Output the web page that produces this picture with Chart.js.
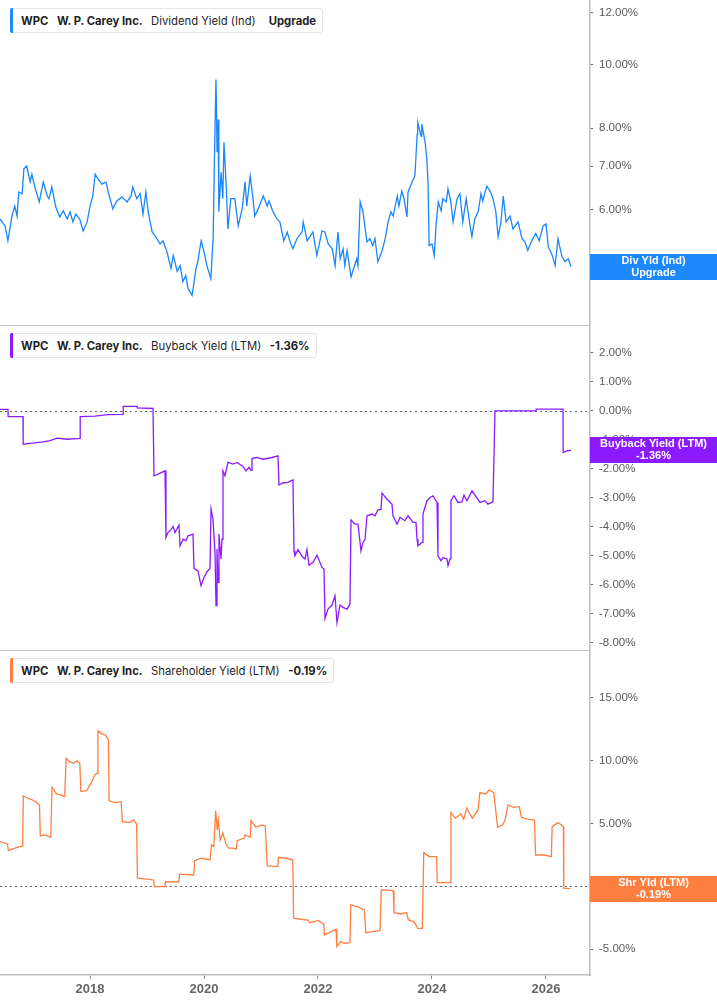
<!DOCTYPE html>
<html><head><meta charset="utf-8">
<script src="https://cdn.jsdelivr.net/npm/chart.js@4/dist/chart.umd.min.js"></script>
<style>
html,body{margin:0;padding:0;background:#fff;}
#wrap{position:relative;width:717px;height:1005px;overflow:hidden;}
#c{position:absolute;left:0;top:0;}
.legend{position:absolute;left:10px;height:25px;border:1px solid #e4e4e4;border-radius:3px;background:#fff;
  font-family:Inter,"Noto Sans",sans-serif;font-size:11.3px;color:#1f1f1f;display:flex;align-items:center;
  box-sizing:border-box;padding:0 6px 0 10px;white-space:nowrap;}
.legend .bar{position:absolute;left:-1px;top:-1px;bottom:-1px;width:3px;border-radius:2px 0 0 2px;}
.legend span{margin-right:8.5px}
.legend span:last-child{margin-right:0}
.b{font-weight:700}
</style></head>
<body>
<div id="wrap">
<canvas id="c" width="717" height="1005"></canvas>
<div class="legend" style="top:8px"><div class="bar" style="background:#1e88ff"></div><span class="b">WPC</span><span class="b">W. P. Carey Inc.</span><span style="margin-right:13px">Dividend Yield (Ind)</span><span class="b">Upgrade</span></div>
<div class="legend" style="top:333px"><div class="bar" style="background:#8c1aff"></div><span class="b">WPC</span><span class="b">W. P. Carey Inc.</span><span>Buyback Yield (LTM)</span><span class="b">-1.36%</span></div>
<div class="legend" style="top:658px"><div class="bar" style="background:#ff7f40"></div><span class="b">WPC</span><span class="b">W. P. Carey Inc.</span><span>Shareholder Yield (LTM)</span><span class="b">-0.19%</span></div>
</div>
<script>
// ---- data (x = decimal year, y = percent) ----
const xTickYears = [2018, 2020, 2022, 2024, 2026];
const divTicks = [5, 6, 7, 8, 10, 12];
const buybackTicks = [2, 1, 0, -1, -2, -3, -4, -5, -6, -7, -8];
const shrTicks = [15, 10, 5, 0, -5];

const dividendYield = [[2016.42,5.81],[2016.51,5.67],[2016.56,5.38],[2016.63,5.87],[2016.68,6.08],[2016.72,5.87],[2016.75,6.39],[2016.81,6.35],[2016.84,6.93],[2016.89,7.00],[2016.95,6.62],[2016.98,6.80],[2017.04,6.46],[2017.11,6.17],[2017.18,6.62],[2017.25,6.30],[2017.28,6.24],[2017.33,6.50],[2017.40,6.06],[2017.47,5.85],[2017.53,5.98],[2017.60,5.81],[2017.65,5.96],[2017.70,5.75],[2017.75,5.91],[2017.82,5.81],[2017.88,5.57],[2017.95,5.75],[2018.00,6.08],[2018.05,6.30],[2018.09,6.80],[2018.14,6.69],[2018.21,6.57],[2018.28,6.62],[2018.32,6.39],[2018.40,6.02],[2018.47,6.19],[2018.56,6.28],[2018.65,6.17],[2018.72,6.30],[2018.75,6.50],[2018.82,6.24],[2018.88,6.35],[2018.93,5.91],[2018.98,6.39],[2019.02,5.96],[2019.09,5.55],[2019.14,5.48],[2019.23,5.32],[2019.28,5.38],[2019.35,5.18],[2019.42,4.88],[2019.46,5.11],[2019.53,4.83],[2019.58,4.93],[2019.63,4.66],[2019.68,4.76],[2019.72,4.55],[2019.79,4.44],[2019.81,4.55],[2019.86,4.88],[2019.89,5.00],[2019.95,5.38],[2020.00,5.18],[2020.05,4.93],[2020.12,4.71],[2020.16,5.42],[2020.18,6.93],[2020.21,9.49],[2020.23,7.35],[2020.25,8.25],[2020.26,5.96],[2020.30,6.85],[2020.33,6.24],[2020.35,7.61],[2020.39,6.52],[2020.42,5.61],[2020.47,6.24],[2020.54,6.24],[2020.60,5.67],[2020.67,6.02],[2020.72,6.62],[2020.75,6.08],[2020.81,6.76],[2020.86,6.24],[2020.89,5.87],[2020.95,6.02],[2021.04,6.30],[2021.11,6.08],[2021.14,6.19],[2021.21,5.96],[2021.28,5.81],[2021.33,5.75],[2021.40,5.38],[2021.46,5.55],[2021.51,5.36],[2021.56,5.23],[2021.63,5.42],[2021.72,5.55],[2021.74,5.75],[2021.81,5.38],[2021.91,5.55],[2021.98,5.11],[2022.07,5.57],[2022.12,5.55],[2022.18,5.32],[2022.25,5.23],[2022.30,4.93],[2022.35,5.55],[2022.39,5.05],[2022.44,5.23],[2022.47,4.93],[2022.51,5.20],[2022.58,4.74],[2022.61,4.83],[2022.68,5.05],[2022.70,4.93],[2022.74,6.17],[2022.79,5.96],[2022.82,5.67],[2022.86,5.36],[2022.91,5.42],[2022.96,5.29],[2023.00,5.42],[2023.05,5.00],[2023.12,5.18],[2023.18,5.42],[2023.23,5.75],[2023.28,5.96],[2023.32,5.87],[2023.39,6.30],[2023.42,6.08],[2023.47,6.41],[2023.51,6.24],[2023.56,5.85],[2023.58,6.39],[2023.65,6.62],[2023.70,6.76],[2023.74,7.83],[2023.75,8.16],[2023.81,7.77],[2023.82,8.11],[2023.88,7.61],[2023.91,7.17],[2023.93,6.62],[2023.95,5.29],[2024.00,5.32],[2024.04,5.11],[2024.07,5.67],[2024.11,6.17],[2024.16,5.98],[2024.19,6.24],[2024.25,6.17],[2024.28,6.46],[2024.33,6.17],[2024.37,5.75],[2024.44,6.24],[2024.49,6.35],[2024.54,5.75],[2024.60,6.24],[2024.65,5.81],[2024.70,5.46],[2024.75,5.81],[2024.81,5.96],[2024.86,6.35],[2024.89,6.19],[2024.96,6.52],[2025.02,6.41],[2025.07,6.24],[2025.12,5.96],[2025.16,5.46],[2025.21,5.75],[2025.25,6.30],[2025.30,5.75],[2025.37,5.87],[2025.42,5.61],[2025.51,5.75],[2025.58,5.42],[2025.63,5.36],[2025.68,5.20],[2025.75,5.38],[2025.82,5.52],[2025.88,5.38],[2025.95,5.67],[2026.00,5.71],[2026.04,5.27],[2026.11,5.11],[2026.16,4.93],[2026.21,5.42],[2026.28,5.09],[2026.33,5.00],[2026.39,5.05],[2026.44,4.91]];

const buybackYield = [[2016.421,0.05],[2016.561,0.05],[2016.564,-0.20],[2016.825,-0.20],[2016.828,-1.15],[2016.947,-1.12],[2017.175,-1.07],[2017.298,-1.03],[2017.421,-0.94],[2017.596,-0.98],[2017.825,-0.95],[2017.828,-0.20],[2018.088,-0.18],[2018.316,-0.13],[2018.579,-0.12],[2018.582,0.15],[2018.825,0.15],[2018.828,0.10],[2019.105,0.08],[2019.123,-2.24],[2019.175,-2.20],[2019.316,-2.07],[2019.333,-4.37],[2019.368,-4.20],[2019.421,-4.10],[2019.456,-3.99],[2019.491,-4.20],[2019.561,-3.94],[2019.579,-4.66],[2019.632,-4.43],[2019.684,-4.48],[2019.719,-4.31],[2019.807,-4.25],[2019.825,-5.44],[2019.895,-5.52],[2019.947,-6.03],[2020.000,-5.75],[2020.053,-5.55],[2020.105,-5.44],[2020.123,-3.39],[2020.158,-3.74],[2020.193,-4.89],[2020.211,-6.72],[2020.228,-4.77],[2020.246,-5.92],[2020.263,-4.25],[2020.298,-5.11],[2020.316,-4.43],[2020.333,-2.07],[2020.368,-2.24],[2020.421,-1.78],[2020.509,-1.84],[2020.579,-1.78],[2020.684,-1.92],[2020.737,-2.07],[2020.789,-1.95],[2020.825,-2.05],[2020.842,-1.64],[2020.930,-1.61],[2021.035,-1.67],[2021.193,-1.61],[2021.298,-1.55],[2021.316,-2.56],[2021.386,-2.49],[2021.474,-2.47],[2021.561,-2.38],[2021.579,-4.83],[2021.596,-5.00],[2021.649,-4.79],[2021.719,-5.02],[2021.772,-5.11],[2021.807,-4.79],[2021.842,-5.32],[2021.912,-5.23],[2021.982,-4.98],[2022.070,-5.40],[2022.105,-5.46],[2022.123,-7.16],[2022.175,-6.84],[2022.246,-6.70],[2022.298,-6.38],[2022.333,-7.30],[2022.386,-6.70],[2022.439,-6.78],[2022.509,-6.84],[2022.561,-6.67],[2022.579,-3.76],[2022.649,-3.91],[2022.702,-3.91],[2022.754,-4.83],[2022.789,-4.54],[2022.825,-4.43],[2022.860,-3.62],[2022.947,-3.56],[2023.000,-3.62],[2023.053,-3.41],[2023.105,-3.41],[2023.123,-2.84],[2023.211,-3.05],[2023.298,-3.22],[2023.316,-3.62],[2023.386,-3.91],[2023.439,-3.68],[2023.526,-3.79],[2023.579,-3.62],[2023.667,-3.85],[2023.719,-3.85],[2023.737,-4.43],[2023.754,-4.66],[2023.825,-4.54],[2023.842,-3.56],[2023.912,-3.10],[2023.965,-2.99],[2024.018,-2.93],[2024.088,-3.16],[2024.105,-5.00],[2024.158,-5.17],[2024.193,-5.06],[2024.263,-5.11],[2024.281,-5.34],[2024.316,-5.11],[2024.333,-3.10],[2024.386,-2.93],[2024.456,-3.16],[2024.526,-3.14],[2024.561,-2.91],[2024.614,-3.10],[2024.702,-2.76],[2024.754,-2.91],[2024.842,-3.16],[2024.930,-3.10],[2024.982,-3.22],[2025.070,-3.14],[2025.105,0.00],[2025.596,0.00],[2025.825,0.00],[2025.828,0.06],[2026.298,0.06],[2026.301,-1.44],[2026.368,-1.38],[2026.439,-1.36]];

const shareholderYield = [[2016.421,3.55],[2016.553,3.37],[2016.567,2.84],[2016.684,3.03],[2016.818,3.21],[2016.830,7.20],[2016.912,7.01],[2017.018,6.82],[2017.114,6.48],[2017.128,4.01],[2017.211,4.09],[2017.312,3.90],[2017.333,7.89],[2017.412,7.35],[2017.477,7.27],[2017.556,7.14],[2017.582,10.20],[2017.642,9.93],[2017.709,9.80],[2017.775,10.00],[2017.821,9.80],[2017.840,7.54],[2017.940,7.62],[2018.018,8.21],[2018.084,8.87],[2018.125,9.00],[2018.139,12.40],[2018.203,12.14],[2018.270,12.06],[2018.323,11.66],[2018.335,6.82],[2018.435,6.66],[2018.547,6.74],[2018.567,5.15],[2018.698,5.07],[2018.765,5.28],[2018.818,4.96],[2018.832,0.64],[2018.963,0.58],[2019.116,0.50],[2019.128,-0.03],[2019.312,-0.03],[2019.326,0.37],[2019.558,0.34],[2019.570,0.96],[2019.821,0.90],[2019.835,2.04],[2019.954,2.23],[2020.105,2.10],[2020.132,3.29],[2020.172,3.16],[2020.205,6.02],[2020.232,4.49],[2020.251,5.28],[2020.284,3.69],[2020.330,4.22],[2020.382,3.43],[2020.430,3.03],[2020.514,3.03],[2020.568,2.95],[2020.581,3.63],[2020.700,3.82],[2020.726,4.09],[2020.812,3.90],[2020.825,5.23],[2020.910,4.70],[2021.010,4.88],[2021.075,4.80],[2021.109,1.62],[2021.295,1.56],[2021.307,2.31],[2021.439,2.23],[2021.558,2.10],[2021.572,-2.55],[2021.702,-2.63],[2021.823,-2.69],[2021.849,-2.90],[2022.000,-2.74],[2022.100,-3.00],[2022.112,-3.88],[2022.232,-3.62],[2022.317,-3.43],[2022.331,-4.81],[2022.397,-4.41],[2022.463,-4.54],[2022.561,-4.49],[2022.575,-1.49],[2022.693,-1.63],[2022.812,-1.89],[2022.839,-3.70],[2022.958,-3.62],[2023.089,-3.54],[2023.110,-0.29],[2023.321,-0.35],[2023.333,-2.10],[2023.453,-2.21],[2023.553,-2.10],[2023.586,-2.69],[2023.684,-2.82],[2023.751,-3.35],[2023.830,-3.35],[2023.856,2.68],[2023.949,2.36],[2024.081,2.36],[2024.093,0.29],[2024.325,0.29],[2024.332,5.87],[2024.410,5.42],[2024.509,5.76],[2024.556,5.34],[2024.609,6.22],[2024.707,5.42],[2024.807,6.08],[2024.840,7.46],[2024.939,7.35],[2025.005,7.67],[2025.084,7.46],[2025.151,4.70],[2025.235,4.88],[2025.282,5.28],[2025.335,6.48],[2025.433,6.29],[2025.533,6.34],[2025.567,5.50],[2025.665,5.34],[2025.797,5.28],[2025.818,2.49],[2025.961,2.49],[2026.095,2.36],[2026.107,4.75],[2026.212,5.07],[2026.305,4.75],[2026.312,-0.16],[2026.425,-0.19]];

const tagLabels = [
  {axis:'yTop', ds:0, color:'#1e88ff', lines:['Div Yld (Ind)','Upgrade']},
  {axis:'yMid', ds:1, color:'#8c1aff', lines:['Buyback Yield (LTM)','-1.36%']},
  {axis:'yBot', ds:2, color:'#ff7f40', lines:['Shr Yld (LTM)','-0.19%']}
];

// ---- chart ----
const toPts = a => a.map(p => ({x:p[0], y:p[1]}));
const AXIS_W = 127;
const tickFont = {family:'"Liberation Sans", Arial, sans-serif', size:11.5};
const pct = v => Number(v).toFixed(2) + '%';

function yAxis(type, min, max, ticks) {
  return {
    type, min, max, position:'right', stack:'panels', stackWeight:1, offset:false,
    afterBuildTicks: s => { s.ticks = ticks.map(v => ({value:v})); },
    afterFit: s => { s.width = AXIS_W; s.paddingTop = 0; s.paddingBottom = 0; },
    grid:{drawOnChartArea:false, drawTicks:true, tickLength:3, tickColor:'#666', color:'#666'},
    border:{display:true, color:'#bdbdbd', width:1.5},
    ticks:{font:tickFont, color:'#5a5a5a', padding:6, callback: v => pct(v), autoSkip:false}
  };
}

const panelPlugin = {
  id:'panels',
  beforeDatasetsDraw(chart){
    const ctx = chart.ctx, ca = chart.chartArea;
    ctx.save();
    ctx.strokeStyle = '#c4c4c4'; ctx.lineWidth = 1;
    ['yMid','yBot'].forEach(id => {
      const t = Math.round(chart.scales[id].top) + 0.5;
      ctx.beginPath(); ctx.moveTo(ca.left, t); ctx.lineTo(ca.right, t); ctx.stroke();
    });
    ctx.strokeStyle = '#666'; ctx.setLineDash([2,3]);
    ['yMid','yBot'].forEach(id => {
      const y = Math.round(chart.scales[id].getPixelForValue(0)) + 0.5;
      ctx.beginPath(); ctx.moveTo(ca.left, y); ctx.lineTo(ca.right, y); ctx.stroke();
    });
    ctx.restore();
  },
  afterDraw(chart){
    const ctx = chart.ctx, x0 = chart.chartArea.right, w = chart.width - x0;
    ctx.save();
    tagLabels.forEach(t => {
      const d = chart.data.datasets[t.ds].data;
      const y = chart.scales[t.axis].getPixelForValue(d[d.length-1].y);
      ctx.fillStyle = t.color;
      ctx.fillRect(x0, Math.round(y) - 13, w, 26);
      ctx.fillStyle = '#fff';
      ctx.font = 'bold 11px "Liberation Sans", Arial, sans-serif';
      ctx.textAlign = 'center'; ctx.textBaseline = 'middle';
      ctx.fillText(t.lines[0], x0 + w/2, Math.round(y) - 6);
      ctx.fillText(t.lines[1], x0 + w/2, Math.round(y) + 6);
    });
    ctx.restore();
  }
};

new Chart(document.getElementById('c'), {
  type:'line',
  data:{datasets:[
    {data:toPts(dividendYield), yAxisID:'yTop', borderColor:'#1a86fb', borderWidth:1.3, pointRadius:0, tension:0, fill:false},
    {data:toPts(buybackYield), yAxisID:'yMid', borderColor:'#8c1aff', borderWidth:1.3, pointRadius:0, tension:0, fill:false},
    {data:toPts(shareholderYield), yAxisID:'yBot', borderColor:'#ff7f40', borderWidth:1.3, pointRadius:0, tension:0, fill:false}
  ]},
  options:{
    responsive:false, animation:false, devicePixelRatio:1,
    layout:{padding:0},
    plugins:{legend:{display:false}, tooltip:{enabled:false}},
    scales:{
      x:{type:'linear', position:'bottom', min:2016.421, max:2026.772,
        afterBuildTicks: s => { s.ticks = xTickYears.map(v => ({value:v})); },
        afterFit: s => { s.height = 30; s.paddingLeft = 0; s.paddingRight = 0; },
        grid:{drawOnChartArea:false, drawTicks:true, tickLength:4, tickColor:'#888', color:'#888'},
        border:{display:true, color:'#bdbdbd', width:1.5},
        ticks:{font:{family:'"Liberation Sans", Arial, sans-serif', size:13, weight:'bold'}, color:'#666', padding:3, maxRotation:0, callback: v => String(v)}
      },
      yTop: yAxis('logarithmic', 4.03, 12.56, divTicks),
      yMid: yAxis('linear', -8.25, 2.96, buybackTicks),
      yBot: yAxis('linear', -7.07, 18.82, shrTicks)
    }
  },
  plugins:[panelPlugin]
});
</script>
</body></html>
